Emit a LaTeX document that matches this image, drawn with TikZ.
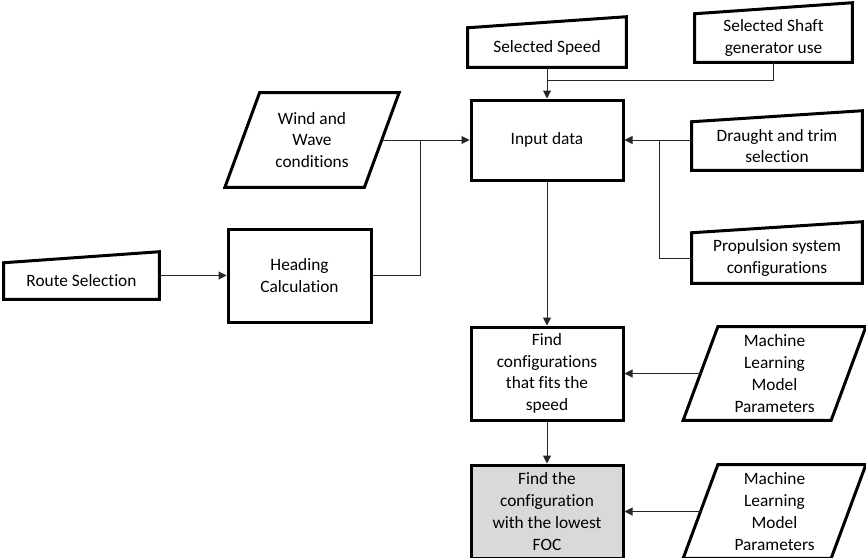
\documentclass[tikz,border=0pt]{standalone}
\usepackage{fontspec}
\setmainfont{Carlito}[Ligatures=NoCommon]
\usetikzlibrary{arrows.meta}
\usetikzlibrary{positioning}
\tikzset {
  flow line/.style = {
    draw = black!85,
    line width = 0.75pt
  },
  % path style with an arrow at the end
  arr/.style = {
    flow line,
    -{Triangle[length=6pt,width=6pt]}
  },
  % path style with no arrows
  narr/.style = {
    flow line
  }
}
\tikzset {
  flow node/.style = {
    align = center,
    inner sep = 1pt,
    font = \fontsize{13}{16.3}\selectfont
  },
  % process step
  process/.style = {
    flow node,
    draw = black,
    line width = 2.25pt,
    rectangle
  },
  % manual input, the slanted outline is drawn afterwards
  manual/.style = {
    flow node
  },
  % data, the parallelogram is drawn afterwards
  data/.style = {
    flow node,
    minimum width = 110.6pt,
    minimum height = 69.75pt
  },
  outline/.style = {
    draw = black,
    line width = 2.25pt,
    line join = miter
  }
}

\begin{document}
\begin{tikzpicture}[x=0.75pt, y=-0.75pt]
  \useasboundingbox (0,0) rectangle (866,557);

  % inputs on top and on the right
  \node[manual, minimum width=118.5pt, minimum height=29.25pt] (speed) at (547,47.5) {Selected Speed};
  \node[manual, minimum width=117.75pt, minimum height=36pt] (shaft) at (773.5,38) {Selected Shaft\\generator use};
  \node[manual, minimum width=127.5pt, minimum height=36pt] (draught) at (777,146) {Draught and trim\\selection};
  \node[manual, minimum width=127.5pt, minimum height=37.5pt] (propulsion) at (777,258) {Propulsion system\\configurations};

  % left branch
  \node[data, minimum width=104.25pt, minimum height=70.5pt] (wind) at (312,140) {Wind and\\Wave\\conditions};
  \node[process, minimum width=107.25pt, minimum height=69.75pt] (heading) at (299.5,275.5) {Heading\\Calculation};
  \node[manual, minimum width=116.25pt, minimum height=27pt] (route) at (81.5,281) {Route Selection};

  % main column
  \node[process, minimum width=114pt, minimum height=60pt] (input) at (547,140) {Input data};
  \node[process, minimum width=114pt, minimum height=69.75pt] (fit) [below=108pt of input] {Find\\configurations\\that fits the\\speed};
  \node[process, fill=gray!30, minimum width=114pt, minimum height=69.75pt] (lowest) [below=31.5pt of fit] {Find the\\configuration\\with the lowest\\FOC};
  \node[data] (ml-fit) [right=57pt of fit] {Machine\\Learning\\Model\\Parameters};
  \node[data] (ml-lowest) [right=57pt of lowest] {Machine\\Learning\\Model\\Parameters};

  % outlines of the manual inputs and data shapes
  \foreach \n in {speed, shaft, draught, propulsion, route}
    \draw[outline] (\n.south west) -- (\n.south east)
      -- ([yshift=8.25pt]\n.north east) -- (\n.north west) -- cycle;
  \foreach \n in {wind, ml-fit, ml-lowest}
    \draw[outline] ([xshift=13pt]\n.north west) -- ([xshift=13pt]\n.north east)
      -- ([xshift=-13pt]\n.south east) -- ([xshift=-13pt]\n.south west) -- cycle;

  \coordinate (speed-join) at (547,80);
  \coordinate (wind-join) at (420,140);
  \coordinate (draught-join) at (659,140);

  \draw[arr] (speed) -- (input);
  \draw[narr] (shaft.south) |- (speed-join);
  \draw[arr] (wind) -- (input);
  \draw[narr] (heading.east) -| (wind-join);
  \draw[arr] (heading.west -| route.east) -- (heading.west);
  \draw[arr] (draught.west |- input.east) -- (input.east);
  \draw[narr] (propulsion.west) -| (draught-join);
  \draw[arr] (input) -- (fit);
  \draw[arr] (ml-fit) -- (fit);
  \draw[arr] (fit) -- (lowest);
  \draw[arr] (ml-lowest) -- (lowest);
\end{tikzpicture}
\end{document}
